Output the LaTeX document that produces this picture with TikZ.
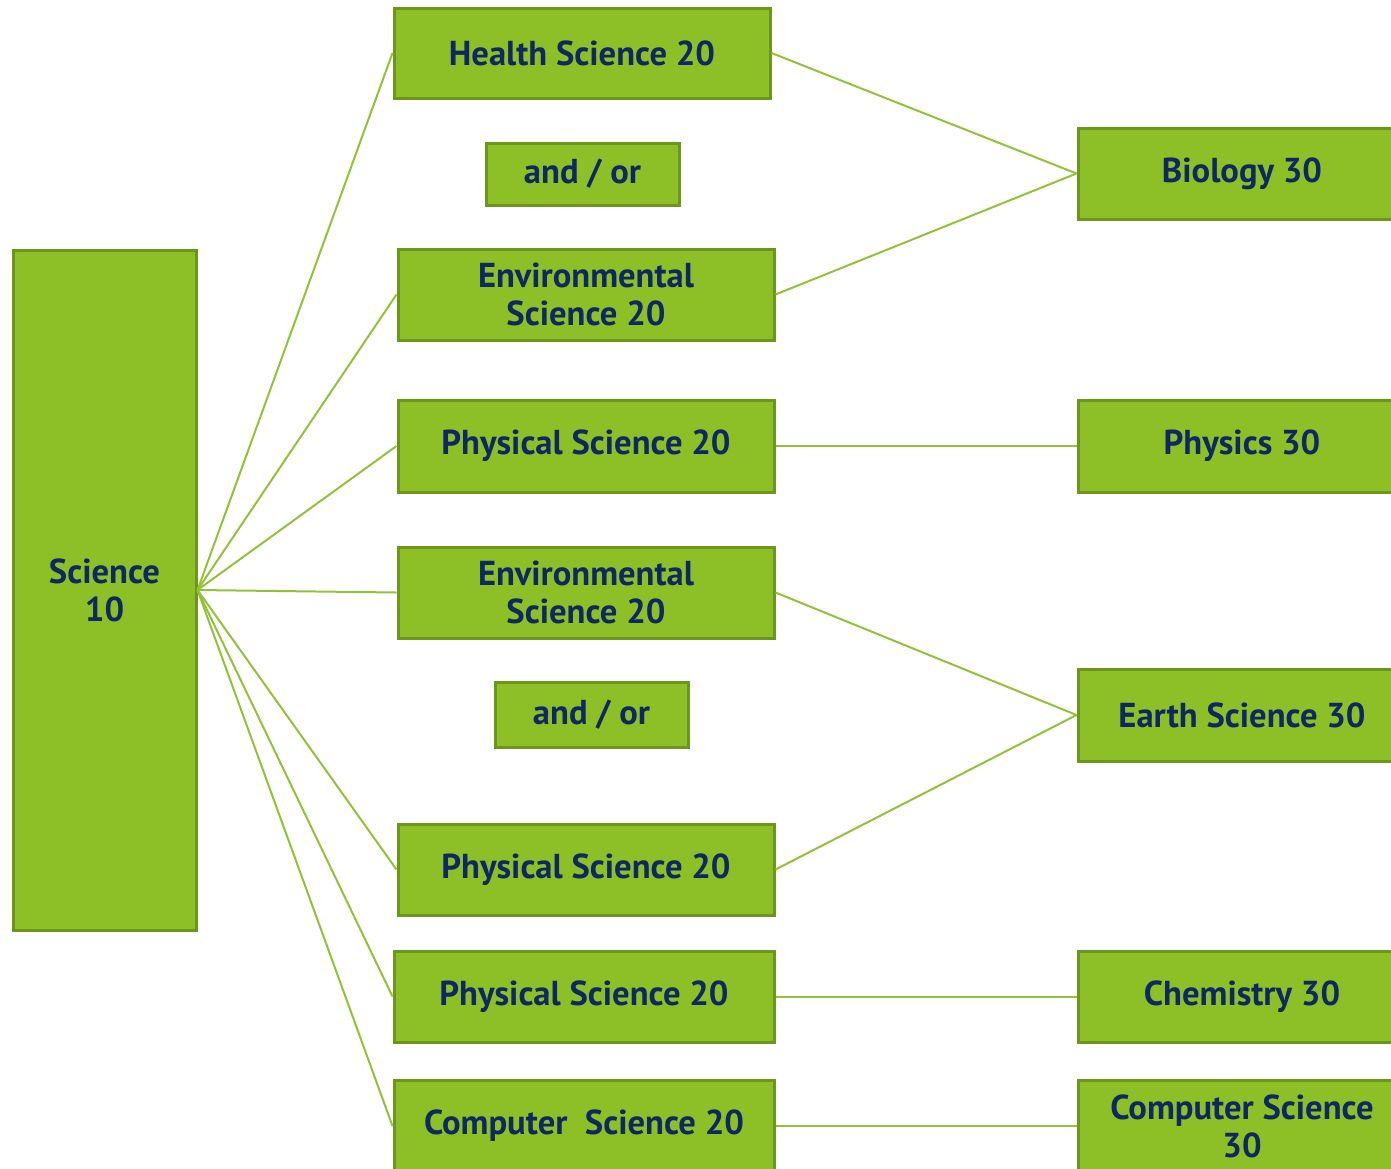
\documentclass[tikz,border=0pt]{standalone}
\usepackage{fontspec}
\setmainfont{PT Sans}
\definecolor{vert}{HTML}{8DC026}
\definecolor{vertfonce}{HTML}{6E961E}
\definecolor{trait}{HTML}{93C13A}
\definecolor{encre}{HTML}{0F2862}
\tikzset {boite/.style 2 args={draw=vertfonce,line width=1.5pt,fill=vert,text=encre,
    font=\bfseries\fontsize{17.3}{19}\selectfont,align=center,inner sep=0pt,
    minimum width=#1,minimum height=#2}}
\tikzset {lien/.style={draw=trait,line width=1pt}}

\begin{document}
\begin{tikzpicture}[x=0.5pt,y=-0.5pt]
  \useasboundingbox (0,0) rectangle (1391,1168);
  % tronc commun
  \node[boite={91.5pt}{340pt}] (sci10) at (104.5,590) {Science\\10};
  % cours de niveau 20
  \node[boite={188pt}{45pt}]   (hs20)  at (582,53)    {Health Science 20};
  \node[boite={96.5pt}{31pt}]  (et1)   at (582.5,174) {and / or};
  \node[boite={188pt}{45.5pt}] (es20a) at (586,294.5) {Environmental\\Science 20};
  \node[boite={188pt}{46pt}]   (ps20a) at (586,446)   {Physical Science 20};
  \node[boite={188pt}{45.5pt}] (es20b) at (586,592.5) {Environmental\\Science 20};
  \node[boite={96.5pt}{32.5pt}](et2)   at (591.5,714.5) {and / or};
  \node[boite={188pt}{45.5pt}] (ps20b) at (586,869.5) {Physical Science 20};
  \node[boite={190pt}{45.5pt}] (ps20c) at (584,996.5) {Physical Science 20};
  \node[boite={190pt}{45.5pt}] (cs20)  at (584,1126)  {Computer~~Science 20};
  % cours de niveau 30
  \node[boite={164pt}{45.5pt}] (bio30)  at (1242,173.5) {Biology 30};
  \node[boite={164pt}{46pt}]   (phy30)  at (1242,446)   {Physics 30};
  \node[boite={164pt}{46pt}]   (ear30)  at (1242,715)   {Earth Science 30};
  \node[boite={164pt}{45.5pt}] (chem30) at (1242,996.5) {Chemistry 30};
  \node[boite={164pt}{45.5pt}] (comp30) at (1242,1126)  {Computer Science\\30};
  % liens
  \foreach \n in {hs20,es20a,ps20a,es20b,ps20b,ps20c,cs20}
    \draw[lien] (sci10.east) -- (\n.west);
  \draw[lien] (hs20.east) -- (bio30.west);
  \draw[lien] (es20a.east) -- (bio30.west);
  \draw[lien] (ps20a.east) -- (phy30.west);
  \draw[lien] (es20b.east) -- (ear30.west);
  \draw[lien] (ps20b.east) -- (ear30.west);
  \draw[lien] (ps20c.east) -- (chem30.west);
  \draw[lien] (cs20.east) -- (comp30.west);
\end{tikzpicture}
\end{document}
